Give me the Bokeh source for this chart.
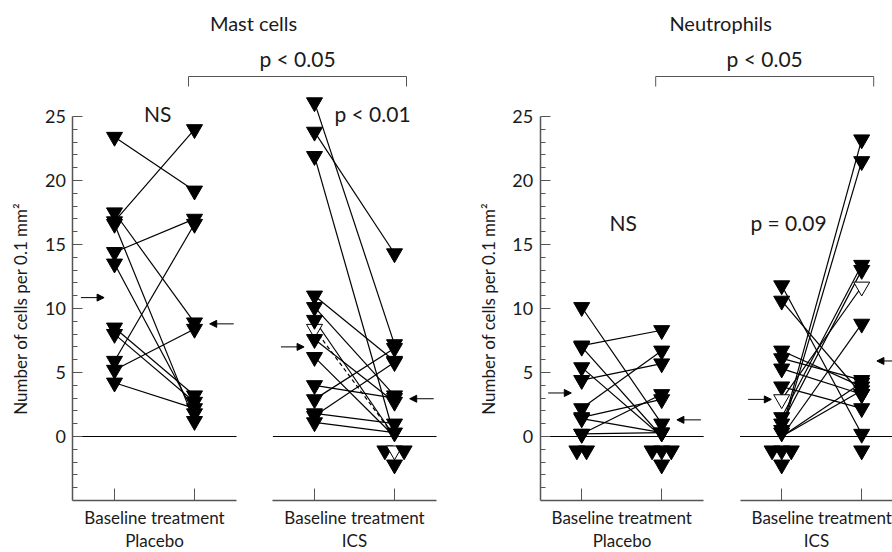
from bokeh.plotting import figure
from bokeh.models import (Range1d, LinearAxis, FixedTicker, ColumnDataSource,
                          Arrow, NormalHead)
from bokeh.core.properties import value
from bokeh.embed import file_html
from bokeh.resources import INLINE

# ---------------- data ----------------
groups = ["Mast cells", "Neutrophils"]
arms = ["Placebo", "ICS", "Placebo", "ICS"]
x_tick_label = "Baseline treatment"
y_label = "Number of cells per 0.1 mm\u00b2"
y_ticks = [0, 5, 10, 15, 20, 25]
y_minor = [v for v in range(-4, 25) if v % 5 != 0]

# Mast cells, placebo (baseline, treatment per subject)
mast_pla_base  = [23.4, 17.5, 16.8, 16.6, 14.4, 13.5, 8.5, 8.0, 5.9, 5.2, 4.2]
mast_pla_treat = [19.2, 8.9, 24.0, 1.2, 17.0, 1.8, 3.2, 2.7, 16.6, 8.4, 2.2]
mast_pla_open  = [0, 0, 0, 0, 0, 0, 0, 0, 0, 0, 0]

# Mast cells, ICS
mast_ics_base  = [26.1, 23.8, 21.9, 11.0, 10.1, 8.4, 9.1, 7.6, 6.2, 4.0, 2.9, 1.8, 1.1, 1.6]
mast_ics_treat = [7.2, 14.3, 0.0, 5.9, 3.2, 0.0, 0.0, 2.7, 0.0, 3.0, 6.9, 1.0, 0.3, 5.8]
mast_ics_open  = [0, 0, 0, 0, 0, 1, 0, 0, 0, 0, 0, 0, 0, 0]

# Neutrophils, placebo
neu_pla_base  = [10.1, 7.1, 7.0, 5.4, 4.4, 2.2, 1.5, 1.4, 0.2, 0.2, 0.0, 0.0]
neu_pla_treat = [1.0, 8.3, 0.0, 0.0, 5.7, 6.7, 2.9, 0.3, 3.3, 0.3, 0.0, 0.0]
neu_pla_open  = [0, 0, 0, 0, 0, 0, 0, 0, 0, 0, 0, 0]

# Neutrophils, ICS
neu_ics_base  = [11.8, 10.6, 6.7, 6.1, 5.3, 3.9, 2.9, 1.5, 1.0, 0.5, 0.3, 0.0, 0.0, 0.0, 0.0]
neu_ics_treat = [0.2, 3.3, 3.9, 4.4, 3.3, 2.2, 11.7, 13.4, 13.0, 23.2, 21.5, 8.8, 4.2, 3.6, 0.0]
neu_ics_open  = [0, 0, 0, 0, 0, 0, 1, 0, 0, 0, 0, 0, 0, 0, 0]

# group summary arrows (baseline, treatment) per panel
arrow_base  = [10.85, 7.0, 3.4, 2.9]
arrow_treat = [8.8, 2.95, 1.3, 5.9]

# statistics texts
within_text = ["NS", "p < 0.01", "NS", "p = 0.09"]
within_y    = [25.2, 25.2, 16.7, 16.7]
between_text = ["p < 0.05", "p < 0.05"]

panels = [
    (mast_pla_base, mast_pla_treat, mast_pla_open),
    (mast_ics_base, mast_ics_treat, mast_ics_open),
    (neu_pla_base, neu_pla_treat, neu_pla_open),
    (neu_ics_base, neu_ics_treat, neu_ics_open),
]
dashed_open_panels = [1]  # the open subject's line is dashed in this panel

# ---------------- layout constants ----------------
panel_x = [0.0, 2.5, 5.84, 8.34]       # baseline position of each panel
FONT = "Lato"
AX_COL = "#555555"
TXT_COL = "#1a1a1a"
ZERO_ROWS = (-1.1, -2.2)
DX = 0.12

p = figure(width=892, height=552, x_range=Range1d(-1.425, 9.725),
           y_range=Range1d(-9.0625, 34.0625), output_backend="svg",
           toolbar_location=None, x_axis_type=None, y_axis_type=None,
           min_border=0, title=None)
p.outline_line_color = None
p.background_fill_color = "white"
p.border_fill_color = "white"

# ---------------- zero lines ----------------
p.segment(x0=[x - 0.52 for x in panel_x], x1=[x + 1.525 for x in panel_x],
          y0=[0] * 4, y1=[0] * 4, line_color="black", line_width=1)

# ---------------- subject lines + markers ----------------
def marker_positions(vals, x0, opens):
    xs, ys, fills = [], [], []
    zeros = [i for i, v in enumerate(vals) if v == 0]
    for i, v in enumerate(vals):
        if v > 0:
            xs.append(x0); ys.append(v)
            fills.append("white" if opens[i] else "black")
    rows = [zeros[:3], zeros[3:]]
    for r, row in enumerate(rows):
        for k, i in enumerate(row):
            xs.append(x0 + (k - (len(row) - 1) / 2) * DX)
            ys.append(ZERO_ROWS[r])
            fills.append("white" if opens[i] else "black")
    return xs, ys, fills

for k, (base, treat, opens) in enumerate(panels):
    x0 = panel_x[k]
    solid = [i for i in range(len(base))
             if not (opens[i] and k in dashed_open_panels)]
    dash = [i for i in range(len(base)) if opens[i] and k in dashed_open_panels]
    p.segment(x0=[x0] * len(solid), x1=[x0 + 1] * len(solid),
              y0=[base[i] for i in solid], y1=[treat[i] for i in solid],
              line_color="black", line_width=1.2)
    if dash:
        p.segment(x0=[x0] * len(dash), x1=[x0 + 1] * len(dash),
                  y0=[base[i] for i in dash], y1=[treat[i] for i in dash],
                  line_color="black", line_width=1.2, line_dash="4 3")
    for xx, vals in ((x0, base), (x0 + 1, treat)):
        xs, ys, fills = marker_positions(vals, xx, opens)
        src = ColumnDataSource(dict(x=xs, y=ys, f=fills))
        p.scatter("x", "y", source=src, marker="inverted_triangle", size=16,
                  fill_color="f", line_color="black", line_width=1)

# ---------------- arrows ----------------
asrc = ColumnDataSource(dict(
    xs=[x - 0.42 for x in panel_x] + [x + 1.49 for x in panel_x],
    xe=[x - 0.13 for x in panel_x] + [x + 1.19 for x in panel_x],
    y=arrow_base + arrow_treat))
p.add_layout(Arrow(x_start="xs", y_start="y", x_end="xe", y_end="y", source=asrc,
                   line_color="black", line_width=1,
                   end=NormalHead(size=7, fill_color="black", line_color="black")))

# ---------------- axes ----------------
for g in range(2):
    yax = LinearAxis(fixed_location=panel_x[2 * g] - 0.52, bounds=(-5, 25),
                     ticker=FixedTicker(ticks=y_ticks, minor_ticks=y_minor),
                     axis_label=y_label)
    yax.axis_line_color = AX_COL
    yax.axis_line_width = 1.5
    yax.major_tick_line_color = AX_COL
    yax.minor_tick_line_color = AX_COL
    yax.major_tick_in = 10
    yax.major_tick_out = 0
    yax.minor_tick_in = 5
    yax.minor_tick_out = 0
    yax.major_label_standoff = 7
    yax.major_label_text_font = FONT
    yax.major_label_text_font_size = "18px"
    yax.major_label_text_color = TXT_COL
    yax.axis_label_text_font = FONT
    yax.axis_label_text_font_size = "17px"
    yax.axis_label_text_font_style = "normal"
    yax.axis_label_text_color = TXT_COL
    yax.axis_label_standoff = 11
    p.add_layout(yax, "left")

for k, x0 in enumerate(panel_x):
    mid = x0 + 0.5
    xax = LinearAxis(fixed_location=-5, bounds=(x0 - 0.52, x0 + 1.525),
                     ticker=FixedTicker(ticks=[mid], minor_ticks=[x0, x0 + 1]),
                     axis_label=arms[k])
    xax.major_label_overrides = {mid: x_tick_label}
    xax.axis_line_color = AX_COL
    xax.axis_line_width = 1.5
    xax.major_tick_in = 0
    xax.major_tick_out = 0
    xax.minor_tick_line_color = AX_COL
    xax.minor_tick_in = 12
    xax.minor_tick_out = 0
    xax.major_label_standoff = 6
    xax.major_label_text_font = FONT
    xax.major_label_text_font_size = "17px"
    xax.major_label_text_color = TXT_COL
    xax.axis_label_text_font = FONT
    xax.axis_label_text_font_size = "17px"
    xax.axis_label_text_font_style = "normal"
    xax.axis_label_text_color = TXT_COL
    xax.axis_label_standoff = -1
    p.add_layout(xax, "below")

# ---------------- texts ----------------
within_x = [panel_x[0] + 0.54, panel_x[1] + 0.725, panel_x[2] + 0.52, panel_x[3] + 0.085]
p.text(x=within_x, y=within_y, text=within_text, text_font=value(FONT),
       text_font_size="21px", text_align="center", text_baseline="middle",
       text_color=TXT_COL)

title_x = [panel_x[0] + 1.7375, panel_x[2] + 1.7375]
p.text(x=title_x, y=[32.27, 32.27], text=groups, text_font=value(FONT),
       text_font_size="20px", text_align="center", text_baseline="middle",
       text_color=TXT_COL)

br_left = [panel_x[0] + 1 - 0.075, panel_x[2] + 1 - 0.075]
br_right = [panel_x[1] + 1 + 0.15, panel_x[3] + 1 + 0.15]
p.multi_line(xs=[[l, l, r, r] for l, r in zip(br_left, br_right)],
             ys=[[27.34, 28.125, 28.125, 27.34]] * 2,
             line_color=AX_COL, line_width=1)
p.text(x=[(l + r) / 2 for l, r in zip(br_left, br_right)], y=[29.5, 29.5],
       text=between_text, text_font=value(FONT), text_font_size="21px",
       text_align="center", text_baseline="middle", text_color=TXT_COL)

open("out.html", "w").write(file_html(p, INLINE))
